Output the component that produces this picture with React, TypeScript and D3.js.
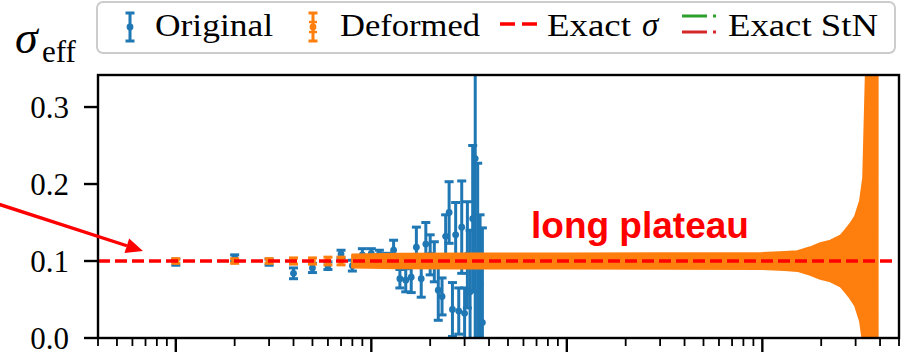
import * as d3 from "d3";
import { useEffect } from "react";

// Original estimator: sample index, value and error
const originalN = [1, 2, 3, 4, 5, 6, 7, 8, 9, 10, 11, 12, 13, 14, 15, 16, 17, 18, 19, 20, 21, 22, 23, 24, 25, 26, 27, 28, 29, 30, 31, 32, 33, 34, 35, 36, 37];
const originalSigma = [0.0985, 0.104, 0.0985, 0.084, 0.091, 0.094, 0.109, 0.094, 0.108, 0.11, 0.109, 0.105, 0.114, 0.077, 0.075, 0.079, 0.118, 0.077, 0.122, 0.108, 0.099, 0.062, 0.054, 0.132, 0.163, 0.037, 0.134, 0.035, 0.144, 0.032, 0.108, 0.06, 0.155, 0.233, 0.11, 0.07, 0.02];
const originalErr = [0.004, 0.004, 0.004, 0.007, 0.006, 0.005, 0.005, 0.007, 0.008, 0.006, 0.005, 0.005, 0.013, 0.012, 0.015, 0.02, 0.026, 0.024, 0.028, 0.026, 0.026, 0.039, 0.024, 0.028, 0.04, 0.035, 0.042, 0.03, 0.06, 0.033, 0.069, 0.08, 0.095, 0.24, 0.117, 0.09, 0.123];

// Deformed estimator: first discrete points, then a dense band
const deformedN = [1, 2, 3, 4, 5, 6, 7];
const deformedSigma = [0.1, 0.1, 0.1, 0.1, 0.1, 0.1, 0.1];
const deformedErr = [0.003, 0.003, 0.003, 0.004, 0.004, 0.005, 0.005];

const bandN = [8, 14, 30, 100, 300, 1000, 1300, 1510, 1760, 1980, 2230, 2510, 2660, 2820, 2990, 3170, 3290, 3400, 3875];
const bandSigma = [0.1, 0.1, 0.1, 0.1, 0.1, 0.1, 0.1, 0.1, 0.1, 0.1, 0.1, 0.1, 0.1, 0.1, 0.1, 0.1, 0.1, 0.1, 0.1];
const bandErr = [0.008, 0.009, 0.0095, 0.0095, 0.0097, 0.0102, 0.0115, 0.0125, 0.0175, 0.0227, 0.026, 0.0325, 0.04, 0.048, 0.058, 0.078, 0.108, 0.25, 0.4];

const exactSigma = 0.1;
const yTicks = [0, 0.1, 0.2, 0.3];

const W = 903;
const H = 357;
const m = { left: 98, right: 899, top: 75, bottom: 338 };

const BLUE = "#1f77b4";
const ORANGE = "#ff7f0e";
const serif = "'Liberation Serif', 'Times New Roman', serif";

function ErrBar({ cx, y0, y1, cy, color }: { cx: number; y0: number; y1: number; cy: number; color: string }) {
  return (
    <g stroke={color} strokeWidth={3}>
      <line x1={cx} x2={cx} y1={y0} y2={y1} />
      <line x1={cx - 4.5} x2={cx + 4.5} y1={y0} y2={y0} />
      <line x1={cx - 4.5} x2={cx + 4.5} y1={y1} y2={y1} />
      <circle cx={cx} cy={cy} r={3.4} fill={color} stroke="none" />
    </g>
  );
}

export default function App() {
  useEffect(() => {
    document.body.style.margin = "0";
  }, []);

  const x = d3.scaleLog().domain([0.4, 5000]).range([m.left, m.right]);
  const y = d3.scaleLinear().domain([0, 0.3416]).range([m.bottom, m.top]);

  const xTicks = x.ticks();
  const isMajor = (v: number) => Math.abs(Math.log10(v) - Math.round(Math.log10(v))) < 1e-6;

  const band = d3
    .area<number>()
    .x((_, i) => x(bandN[i]))
    .y0((_, i) => y(bandSigma[i] - bandErr[i]))
    .y1((_, i) => y(bandSigma[i] + bandErr[i]));

  // arrow
  const ax0 = -5, ay0 = 203, ax1 = 143, ay1 = 251;
  const ang = Math.atan2(ay1 - ay0, ax1 - ax0);
  const hl = 17, hw = 7.5;
  const bx = ax1 - hl * Math.cos(ang), by = ay1 - hl * Math.sin(ang);
  const head = [
    [ax1, ay1],
    [bx + hw * Math.sin(ang), by - hw * Math.cos(ang)],
    [bx - hw * Math.sin(ang), by + hw * Math.cos(ang)],
  ];

  return (
    <svg width={W} height={H} style={{ display: "block", background: "#fff" }} fontFamily={serif}>
      <defs>
        <clipPath id="plot">
          <rect x={m.left} y={m.top} width={m.right - m.left} height={m.bottom - m.top} />
        </clipPath>
      </defs>

      <g clipPath="url(#plot)">
        {originalN.map((n, i) => (
          <ErrBar
            key={"o" + i}
            cx={x(n)}
            y0={y(originalSigma[i] - originalErr[i])}
            y1={y(originalSigma[i] + originalErr[i])}
            cy={y(originalSigma[i])}
            color={BLUE}
          />
        ))}
        {deformedN.map((n, i) => (
          <ErrBar
            key={"d" + i}
            cx={x(n)}
            y0={y(deformedSigma[i] - deformedErr[i])}
            y1={y(deformedSigma[i] + deformedErr[i])}
            cy={y(deformedSigma[i])}
            color={ORANGE}
          />
        ))}
        <path d={band(bandN) ?? ""} fill={ORANGE} stroke={ORANGE} strokeWidth={2.5} strokeLinejoin="round" />
      </g>

      <line
        x1={m.left}
        x2={m.right - 4}
        y1={y(exactSigma)}
        y2={y(exactSigma)}
        stroke="#ff0000"
        strokeWidth={3.6}
        strokeDasharray="12 5"
      />

      {/* frame */}
      <rect x={m.left} y={m.top} width={m.right - m.left} height={m.bottom - m.top} fill="none" stroke="#000" strokeWidth={2.4} />

      {/* y axis */}
      {yTicks.map((t) => (
        <g key={t}>
          <line x1={m.left - 14} x2={m.left} y1={y(t)} y2={y(t)} stroke="#000" strokeWidth={2.4} />
          <text x={69} y={y(t)} dy="0.34em" textAnchor="end" fontSize={31} fill="#000">
            {t.toFixed(1)}
          </text>
        </g>
      ))}

      {/* x axis ticks */}
      {xTicks.map((t, i) => (
        <line
          key={i}
          x1={x(t)}
          x2={x(t)}
          y1={m.bottom}
          y2={m.bottom + (isMajor(t) ? 14 : 8)}
          stroke="#000"
          strokeWidth={isMajor(t) ? 2.4 : 1.8}
        />
      ))}

      {/* y label */}
      <text x={15} y={53} fontSize={46} fontStyle="italic" fill="#000">σ</text>
      <text x={42} y={62} fontSize={31} fill="#000">eff</text>

      {/* legend */}
      <rect x={97} y={2} width={798} height={51} rx={6} fill="#fff" stroke="#cccccc" strokeWidth={2} />
      <ErrBar cx={130} y0={13} y1={41} cy={27} color={BLUE} />
      <text x={155} y={36} fontSize={31} textLength={118} lengthAdjust="spacingAndGlyphs">Original</text>
      <ErrBar cx={313} y0={13} y1={41} cy={27} color={ORANGE} />
      <line x1={309} x2={317} y1={22} y2={22} stroke={ORANGE} strokeWidth={2.4} />
      <line x1={309} x2={317} y1={32} y2={32} stroke={ORANGE} strokeWidth={2.4} />
      <text x={340} y={36} fontSize={31} textLength={140} lengthAdjust="spacingAndGlyphs">Deformed</text>
      <line x1={500} x2={538} y1={24} y2={24} stroke="#ff0000" strokeWidth={3.4} strokeDasharray="15 7" />
      <text x={547} y={36} fontSize={31} textLength={84} lengthAdjust="spacingAndGlyphs">Exact</text>
      <text x={642} y={36} fontSize={33} fontStyle="italic">σ</text>
      <line x1={682} x2={719} y1={16} y2={16} stroke="#2ca02c" strokeWidth={3} strokeDasharray="25 6 3 6" />
      <line x1={682} x2={719} y1={32} y2={32} stroke="#d62728" strokeWidth={3} strokeDasharray="25 6 3 6" />
      <text x={728} y={36} fontSize={31} textLength={150} lengthAdjust="spacingAndGlyphs">Exact StN</text>

      {/* annotation */}
      <line x1={ax0} y1={ay0} x2={bx} y2={by} stroke="#ff0000" strokeWidth={3.4} />
      <polygon points={head.map((p) => p.join(",")).join(" ")} fill="#ff0000" />
      <text x={531} y={238} fontSize={37} fontWeight="bold" fill="#ff0000" fontFamily="'Liberation Sans', Arial, sans-serif">
        long plateau
      </text>
    </svg>
  );
}
